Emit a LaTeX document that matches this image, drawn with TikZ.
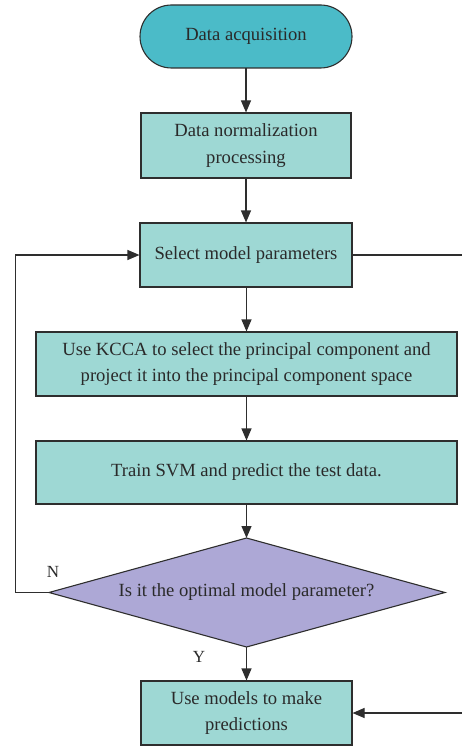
\documentclass[tikz,border=0pt]{standalone}
\usepackage{fontspec}
\setmainfont{Liberation Serif}
\usetikzlibrary{arrows.meta}
\definecolor{boxfill}{HTML}{9ED8D4}
\definecolor{termfill}{HTML}{4BBBC8}
\definecolor{diafill}{HTML}{ADA8D6}
\definecolor{edge}{HTML}{2E2E2E}
\definecolor{txt}{HTML}{2A2A2A}
\begin{document}
\begin{tikzpicture}[x=1pt,y=-1pt,
  every node/.style={font=\fontsize{18.6}{26.5}\selectfont, text=txt},
  procbox/.style={draw=edge, line width=1.1pt, fill=boxfill, rectangle, inner sep=0pt, align=center},
  flow/.style={draw=edge, line width=1.1pt, -{Triangle[length=12pt,width=10pt]}},
  plain/.style={draw=edge, line width=1.1pt},
  lbl/.style={font=\fontsize{17}{20}\selectfont}
]
\useasboundingbox (0,0) rectangle (462,746);
\fill[termfill,draw=edge,line width=1.1pt,rounded corners=31.5pt] (140,5) rectangle (352,68);
\node[inner sep=0pt] (t1) at (246,36.5) {Data acquisition};
\coordinate (t1s) at (246,68);
\node[procbox, minimum width=210pt, minimum height=65pt] (b2) at (246,145.5) {Data normalization\\processing};
\node[procbox, minimum width=212pt, minimum height=64pt] (b3) at (246,255) {Select model parameters};
\node[procbox, minimum width=421pt, minimum height=64pt] (b4) at (246.5,364) {Use KCCA to select the principal component and\\project it into the principal component space};
\node[procbox, minimum width=421pt, minimum height=63pt] (b5) at (246.5,472.5) {Train SVM and predict the test data.};
\path[fill=diafill, draw=edge, line width=1.1pt] (246.5,538) -- (445,592.5) -- (246.5,647) -- (49,592.5) -- cycle;
\node[inner sep=0pt] (d) at (246.5,592.5) {Is it the optimal model parameter?};
\coordinate (dt) at (246.5,538);
\coordinate (db) at (246.5,647);
\coordinate (dl) at (49,592.5);
\node[procbox, minimum width=211pt, minimum height=64pt] (b6) at (246.5,713) {Use models to make\\predictions};
\node[lbl] (n) at (53,572) {N};
\node[lbl] (y) at (199,657) {Y};
\coordinate (lc) at (15.5,592.5);
\coordinate (lt) at (15.5,255);
\coordinate (re) at (462,255);
\coordinate (rb) at (462,713);
\draw[flow] (t1s) -- (b2.north);
\draw[flow] (b2.south) -- (b3.north);
\draw[flow] (b3.south -| b4.north) -- (b4.north);
\draw[flow] (b4.south) -- (b5.north);
\draw[flow] (b5.south) -- (dt);
\draw[flow] (db) -- (b6.north);
\draw[flow] (dl) -- (lc) -- (lt) -- (b3.west);
\draw[plain] (b3.east) -- (re);
\draw[flow] (rb) -- (b6.east);
\end{tikzpicture}
\end{document}
